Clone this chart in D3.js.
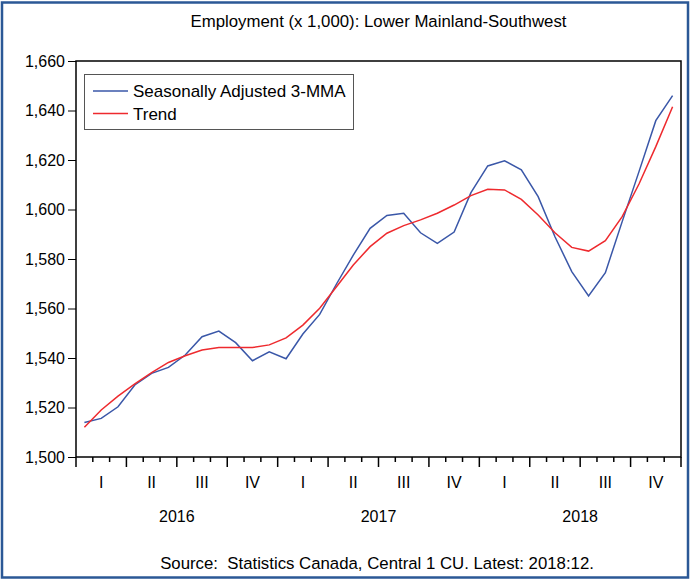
<!DOCTYPE html>
<html>
<head>
<meta charset="utf-8">
<script src="https://cdn.jsdelivr.net/npm/d3@7"></script>
<style>
  body { margin: 0; background: #fff; }
  svg { display: block; font-family: "Liberation Sans", Arial, sans-serif; }
</style>
</head>
<body>
<svg id="chart" width="691" height="581"></svg>
<script>
// values, Jan 2016 .. Dec 2018
const years = [2016, 2017, 2018];
const quarterLabels = ["I", "II", "III", "IV"];
const yTicks = [1500, 1520, 1540, 1560, 1580, 1600, 1620, 1640, 1660];

const seasAdj = [
  1513.9, 1515.6, 1520.3, 1529.1, 1533.8, 1536.2, 1541.2, 1548.6, 1550.9, 1546.2, 1538.9, 1542.5,
  1539.7, 1549.7, 1557.6, 1569.9, 1581.6, 1592.4, 1597.6, 1598.5, 1590.6, 1586.3, 1590.9, 1606.8,
  1617.6, 1619.7, 1616.0, 1605.2, 1589.0, 1574.9, 1565.1, 1574.5, 1595.1, 1615.3, 1635.9, 1646.0
];
const trend = [
  1512.0, 1519.0, 1524.6, 1529.5, 1534.1, 1538.2, 1540.9, 1543.2, 1544.2, 1544.2, 1544.2, 1545.3,
  1548.1, 1553.3, 1560.1, 1568.8, 1577.6, 1585.0, 1590.4, 1593.5, 1595.8, 1598.5, 1601.8, 1605.6,
  1608.2, 1607.9, 1604.1, 1597.8, 1590.6, 1584.7, 1583.2, 1587.4, 1597.1, 1610.3, 1625.4, 1641.5
];

const months = years.flatMap(y => d3.range(1, 13).map(m => y + ":" + m));

const svg = d3.select("#chart");
const plot = {left: 76, top: 61, right: 681, bottom: 457};

// outer frame
svg.append("rect")
  .attr("x", 2).attr("y", 2.5)
  .attr("width", 686).attr("height", 575)
  .attr("fill", "none")
  .attr("stroke", "#2b5896")
  .attr("stroke-width", 2.5);

svg.append("text")
  .attr("x", (plot.left + plot.right) / 2)
  .attr("y", 27)
  .attr("text-anchor", "middle")
  .style("font-size", "16.8px")
  .text("Employment (x 1,000): Lower Mainland-Southwest");

const x = d3.scaleBand().domain(months).range([plot.left, plot.right]).padding(0);
const y = d3.scaleLinear().domain([1500, 1660]).range([plot.bottom, plot.top]);
const cx = d => x(d) + x.bandwidth() / 2;

// y axis
const yAxis = svg.append("g")
  .attr("transform", `translate(${plot.left},0)`)
  .call(d3.axisLeft(y).tickValues(yTicks).tickFormat(d3.format(",")).tickSize(8).tickPadding(3));
yAxis.select(".domain").remove();
yAxis.selectAll("line").attr("stroke", "#000");
yAxis.selectAll("text").style("font-size", "16px").attr("fill", "#000").attr("font-family", null);

// x ticks at month boundaries, longer at quarter boundaries
const bounds = months.map(m => x(m)).concat([plot.right]);
svg.append("g").selectAll("line")
  .data(bounds)
  .join("line")
  .attr("x1", d => d).attr("x2", d => d)
  .attr("y1", plot.bottom)
  .attr("y2", (d, i) => plot.bottom + (i % 3 === 0 ? 10 : 5))
  .attr("stroke", "#000")
  .attr("stroke-width", 1.5);

// quarter labels
const quarters = years.flatMap(yr => quarterLabels.map((q, i) => ({yr, q, m: months[(yr - years[0]) * 12 + i * 3 + 1]})));
svg.append("g").selectAll("text")
  .data(quarters)
  .join("text")
  .attr("x", d => cx(d.m))
  .attr("y", 488)
  .attr("text-anchor", "middle")
  .style("font-size", "16px")
  .text(d => d.q);

svg.append("g").selectAll("text")
  .data(years)
  .join("text")
  .attr("x", yr => x(yr + ":7"))
  .attr("y", 522)
  .attr("text-anchor", "middle")
  .style("font-size", "16px")
  .text(d => d);

// plot frame
svg.append("rect")
  .attr("x", plot.left).attr("y", plot.top)
  .attr("width", plot.right - plot.left).attr("height", plot.bottom - plot.top)
  .attr("fill", "none")
  .attr("stroke", "#000")
  .attr("stroke-width", 1.5);

const line = d3.line().x((d, i) => cx(months[i])).y(d => y(d));

svg.append("path")
  .datum(seasAdj)
  .attr("d", line)
  .attr("fill", "none")
  .attr("stroke", "#3a57a8")
  .attr("stroke-width", 1.5);

svg.append("path")
  .datum(trend)
  .attr("d", line)
  .attr("fill", "none")
  .attr("stroke", "#ee2a2e")
  .attr("stroke-width", 1.5);

// legend
const legend = svg.append("g");
legend.append("rect")
  .attr("x", 84.5).attr("y", 74.5)
  .attr("width", 269).attr("height", 55)
  .attr("fill", "#fff")
  .attr("stroke", "#555")
  .attr("stroke-width", 1);
const items = [["Seasonally Adjusted 3-MMA", "#3a57a8"], ["Trend", "#ee2a2e"]];
items.forEach(([label, color], i) => {
  const ly = 91 + i * 22.5;
  legend.append("line")
    .attr("x1", 93).attr("x2", 128)
    .attr("y1", ly).attr("y2", ly)
    .attr("stroke", color).attr("stroke-width", 1.5);
  legend.append("text")
    .attr("x", 133).attr("y", ly + 6)
    .style("font-size", "17px")
    .text(label);
});

svg.append("text")
  .attr("x", 377)
  .attr("y", 569)
  .attr("text-anchor", "middle")
  .style("font-size", "16.8px")
  .style("white-space", "pre")
  .text("Source:  Statistics Canada, Central 1 CU. Latest: 2018:12.");
</script>
</body>
</html>
